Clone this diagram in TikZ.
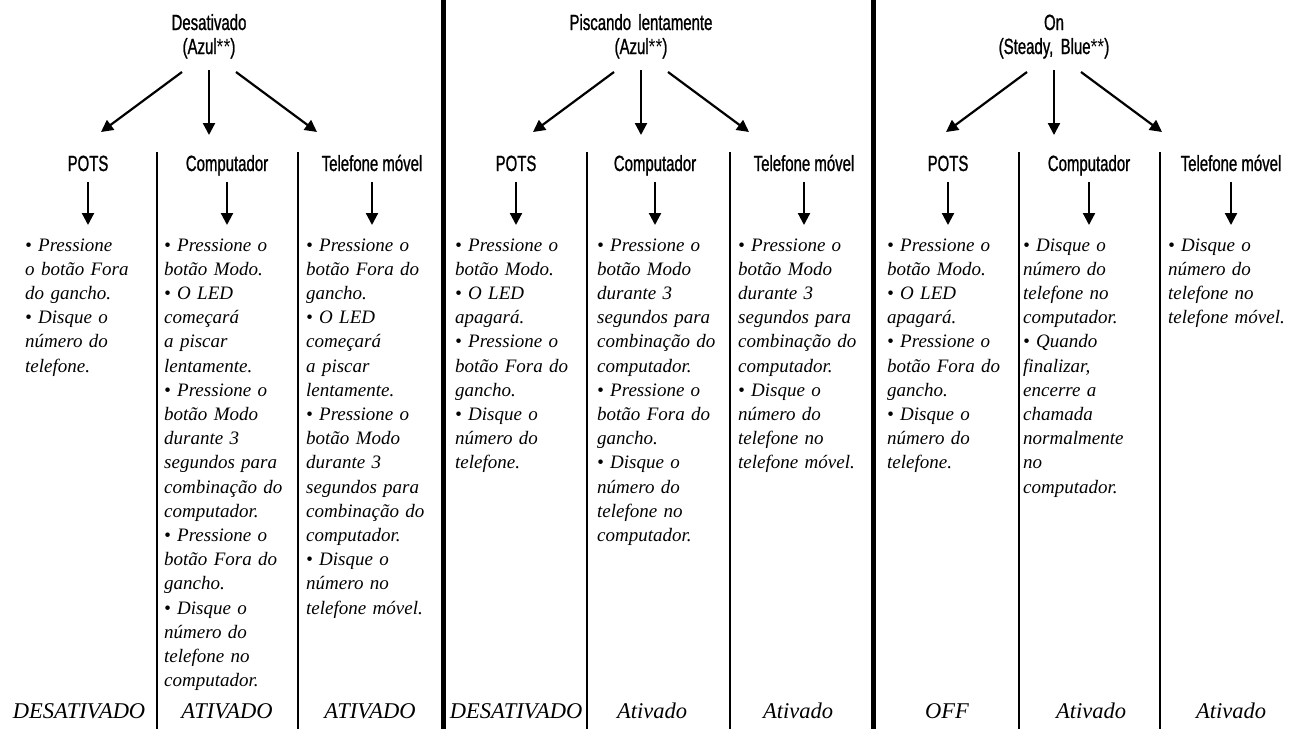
\documentclass[tikz,border=0pt]{standalone}
\usepackage{fontspec}
\setmainfont{Liberation Serif}
\newfontfamily\headfont[FakeStretch=0.68,FakeBold=1]{Liberation Sans}
\newfontfamily\starfont[FakeStretch=0.8]{Liberation Sans}
\newcommand{\stars}{{\starfont**}}
\usetikzlibrary{arrows.meta}

\tikzset{
  title/.style={font=\headfont\fontsize{22}{24}\selectfont, align=center, text width=300pt, anchor=base, inner sep=0pt},
  head/.style={font=\headfont\fontsize{22}{24}\selectfont, anchor=base, inner sep=0pt},
  body/.style={font=\fontsize{19}{24.2}\selectfont\itshape, align=left, text width=150pt, anchor=base west, inner sep=0pt},
  foot/.style={font=\fontsize{22.5}{24}\selectfont\itshape, anchor=base, inner sep=0pt},
  arr/.style={line width=2.2pt, -{Triangle[length=12pt,width=12pt]}},
  colsep/.style={line width=1.8pt},
  groupsep/.style={line width=5pt}
}

\begin{document}
\begin{tikzpicture}[x=1pt,y=-1pt]
\useasboundingbox (0,0) rectangle (1290,729);

% separators
\draw[groupsep] (443,0) -- (443,729);
\draw[groupsep] (873,0) -- (873,729);
\foreach \x in {157,298,587,730,1019,1160}
  \draw[colsep] (\x,152) -- (\x,729);

% Desativado
\node[title] (t1) at (209,30) {Desativado\\(Azul\stars)};
\node[head] (p1) at (88,171) {POTS};
\node[head] (c1) at (227,171) {Computador};
\node[head] (m1) at (372,171) {Telefone móvel};
\node[body] (b11) at (25,251) {• Pressione\\o botão Fora\\do gancho.\\• Disque o\\número do\\telefone.};
\node[body] (b12) at (164,251) {• Pressione o\\botão Modo.\\• O LED\\começará\\a piscar\\lentamente.\\• Pressione o\\botão Modo\\durante 3\\segundos para\\combinação do\\computador.\\• Pressione o\\botão Fora do\\gancho.\\• Disque o\\número do\\telefone no\\computador.};
\node[body] (b13) at (306,251) {• Pressione o\\botão Fora do\\gancho.\\• O LED\\começará\\a piscar\\lentamente.\\• Pressione o\\botão Modo\\durante 3\\segundos para\\combinação do\\computador.\\• Disque o\\número no\\telefone móvel.};
\node[foot] (f11) at (79,718) {DESATIVADO};
\node[foot] (f12) at (227,718) {ATIVADO};
\node[foot] (f13) at (370,718) {ATIVADO};

% Piscando lentamente
\node[title] (t2) at (641,30) {Piscando lentamente\\(Azul\stars)};
\node[head] (p2) at (516,171) {POTS};
\node[head] (c2) at (655,171) {Computador};
\node[head] (m2) at (804,171) {Telefone móvel};
\node[body] (b21) at (455,251) {• Pressione o\\botão Modo.\\• O LED\\apagará.\\• Pressione o\\botão Fora do\\gancho.\\• Disque o\\número do\\telefone.};
\node[body] (b22) at (597,251) {• Pressione o\\botão Modo\\durante 3\\segundos para\\combinação do\\computador.\\• Pressione o\\botão Fora do\\gancho.\\• Disque o\\número do\\telefone no\\computador.};
\node[body] (b23) at (738,251) {• Pressione o\\botão Modo\\durante 3\\segundos para\\combinação do\\computador.\\• Disque o\\número do\\telefone no\\telefone móvel.};
\node[foot] (f21) at (516,718) {DESATIVADO};
\node[foot] (f22) at (652,718) {Ativado};
\node[foot] (f23) at (798,718) {Ativado};

% On
\node[title] (t3) at (1054,30) {On\\(Steady, Blue\stars)};
\node[head] (p3) at (948,171) {POTS};
\node[head] (c3) at (1089,171) {Computador};
\node[head] (m3) at (1231,171) {Telefone móvel};
\node[body] (b31) at (887,251) {• Pressione o\\botão Modo.\\• O LED\\apagará.\\• Pressione o\\botão Fora do\\gancho.\\• Disque o\\número do\\telefone.};
\node[body] (b32) at (1023,251) {• Disque o\\número do\\telefone no\\computador.\\• Quando\\finalizar,\\encerre a\\chamada\\normalmente\\no\\computador.};
\node[body] (b33) at (1168,251) {• Disque o\\número do\\telefone no\\telefone móvel.};
\node[foot] (f31) at (947,718) {OFF};
\node[foot] (f32) at (1091,718) {Ativado};
\node[foot] (f33) at (1231,718) {Ativado};

% arrows
\foreach \t in {t1,t2,t3}{
  \draw[arr] ([xshift=-27pt,yshift=-42pt]\t.base) -- ([xshift=-108pt,yshift=-102pt]\t.base);
  \draw[arr] ([yshift=-40pt]\t.base) -- ([yshift=-105pt]\t.base);
  \draw[arr] ([xshift=27pt,yshift=-42pt]\t.base) -- ([xshift=108pt,yshift=-102pt]\t.base);
}
\foreach \h in {p1,c1,m1,p2,c2,m2,p3,c3,m3}
  \draw[arr] ([yshift=-11pt]\h.base) -- ++(0,43);
\end{tikzpicture}
\end{document}
